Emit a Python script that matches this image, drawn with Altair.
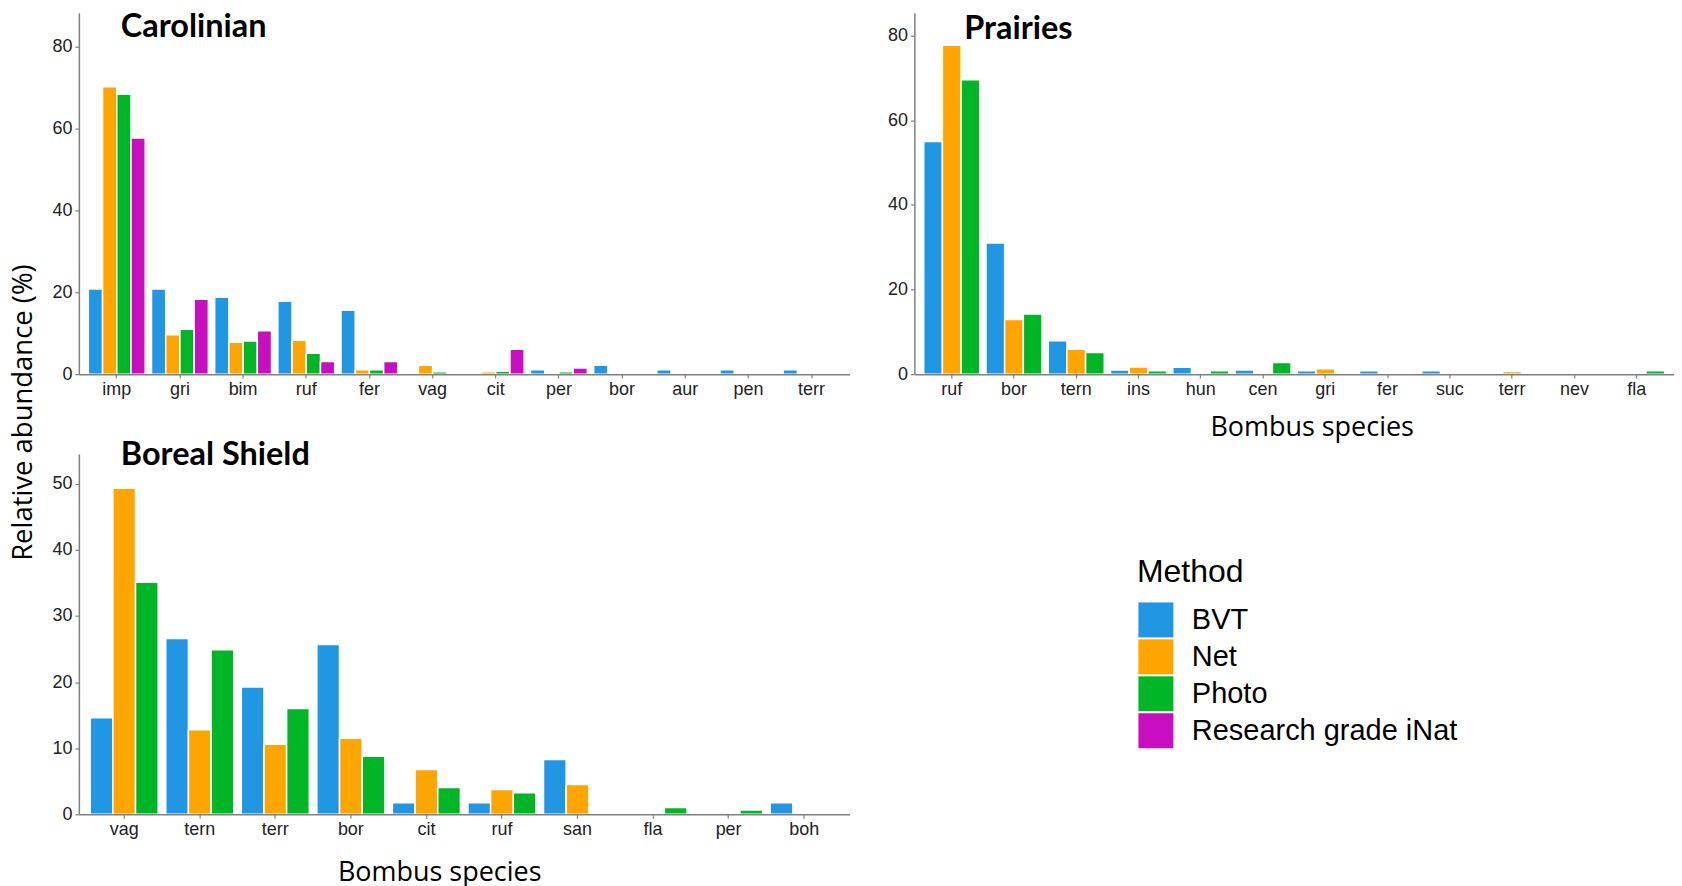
import altair as alt
import pandas as pd

methods_all = ["BVT", "Net", "Photo", "Research grade iNat"]
method_colors = ["#2196E3", "#FFA500", "#00B627", "#C80FBF"]

# Carolinian
car_species = ["imp", "gri", "bim", "ruf", "fer", "vag", "cit", "per", "bor", "aur", "pen", "terr"]
car_bvt = [20.8, 20.8, 18.8, 17.8, 15.6, 0, 0, 1.05, 2.2, 1.05, 1.05, 1.05]
car_net = [70.2, 9.65, 7.8, 8.3, 1.1, 2.2, 0.6, 0.2, 0.2, 0, 0, 0]
car_photo = [68.4, 10.95, 8.1, 5.1, 1.1, 0.6, 0.7, 0.6, 0, 0, 0, 0]
car_inat = [57.7, 18.3, 10.6, 3.1, 3.1, 0, 6.1, 1.5, 0, 0, 0, 0]

# Prairies
pra_species = ["ruf", "bor", "tern", "ins", "hun", "cen", "gri", "fer", "suc", "terr", "nev", "fla"]
pra_bvt = [55.0, 31.0, 7.9, 0.95, 1.6, 0.95, 0.8, 0.8, 0.8, 0.3, 0.3, 0]
pra_net = [77.7, 12.9, 5.9, 1.7, 0, 0, 1.25, 0, 0, 0.6, 0, 0]
pra_photo = [69.6, 14.2, 5.1, 0.8, 0.8, 2.75, 0, 0, 0, 0, 0, 0.8]

# Boreal Shield
bor_species = ["vag", "tern", "terr", "bor", "cit", "ruf", "san", "fla", "per", "boh"]
bor_bvt = [14.6, 26.6, 19.25, 25.7, 1.75, 1.75, 8.3, 0, 0, 1.75]
bor_net = [49.3, 12.8, 10.6, 11.5, 6.8, 3.75, 4.5, 0.15, 0.15, 0]
bor_photo = [35.1, 24.9, 16.0, 8.8, 4.05, 3.25, 0, 1.05, 0.65, 0]


def long_df(species, series):
    rows = []
    for m, vals in series.items():
        for s, v in zip(species, vals):
            if v > 0:
                rows.append({"species": s, "method": m, "value": v})
    return pd.DataFrame(rows)


car_df = long_df(car_species, {"BVT": car_bvt, "Net": car_net, "Photo": car_photo,
                               "Research grade iNat": car_inat})
pra_df = long_df(pra_species, {"BVT": pra_bvt, "Net": pra_net, "Photo": pra_photo})
bor_df = long_df(bor_species, {"BVT": bor_bvt, "Net": bor_net, "Photo": bor_photo})

TICK_FONT = "Liberation Sans"
TITLE_FONT = "Open Sans"


def panel(df, species, methods, ymax, yvals, title, tdx, tdy, width, height,
          ytitle=None, xtitle=None, xtitle_x=None, xtitle_y=56, legend=None):
    xaxis_kwargs = dict(labelFont=TICK_FONT, labelFontSize=18, labelColor="#222222",
                        labelPadding=2, labelAngle=0, tickSize=4, zindex=1,
                        titleFont=TITLE_FONT, titleFontSize=27, titleFontWeight="normal",
                        titleColor="black", titleY=xtitle_y, titleBaseline="middle")
    if xtitle_x is not None:
        xaxis_kwargs["titleX"] = xtitle_x
    xaxis = alt.Axis(**xaxis_kwargs)
    yaxis = alt.Axis(values=yvals, labelFont=TICK_FONT, labelFontSize=18,
                     labelColor="#222222", labelPadding=3, tickSize=4, zindex=1,
                     titleFont=TITLE_FONT, titleFontSize=27.5, titleFontWeight="normal",
                     titleColor="black", titleX=-55, titleY=400, titleBaseline="middle",
                     titleAngle=270)
    color_kwargs = dict(scale=alt.Scale(domain=methods_all, range=method_colors))
    if legend is not None:
        color_kwargs["legend"] = legend
    return alt.Chart(df).mark_bar(stroke="white", strokeWidth=1.5).encode(
        x=alt.X("species:N", sort=species,
                scale=alt.Scale(domain=species, paddingInner=0.1, paddingOuter=0.15),
                axis=xaxis, title=xtitle),
        xOffset=alt.XOffset("method:N", scale=alt.Scale(domain=methods)),
        y=alt.Y("value:Q", scale=alt.Scale(domain=[0, ymax], nice=False),
                axis=yaxis, title=ytitle),
        color=alt.Color("method:N", title="Method", **color_kwargs),
    ).properties(
        width=width, height=height,
        title=alt.TitleParams(text=title, anchor="start", frame="group", orient="top",
                              offset=0, dx=tdx, dy=tdy, baseline="middle",
                              font="Lato", fontSize=32.5, fontWeight="bold", color="black"),
    )


legend = alt.Legend(orient="none", legendX=1060, legendY=545,
                    titleFont="Liberation Sans", titleFontSize=32, titleFontWeight="normal",
                    titleColor="black", titlePadding=13,
                    labelFont="Liberation Sans", labelFontSize=29, labelColor="black",
                    labelOffset=17, labelLimit=500, symbolType="square", symbolSize=1300,
                    symbolStrokeColor="white", symbolStrokeWidth=1, symbolOpacity=1,
                    rowPadding=0, clipHeight=36.5)

car = panel(car_df, car_species, methods_all, 88.3, [0, 20, 40, 60, 80], "Carolinian",
            42, 47, 772, 362, ytitle="Relative abundance (%)", legend=legend)
pra = panel(pra_df, pra_species, ["BVT", "Net", "Photo"], 85.4, [0, 20, 40, 60, 80],
            "Prairies", 50, 49, 761, 362, xtitle="Bombus species", xtitle_x=398,
            xtitle_y=53)
bor = panel(bor_df, bor_species, ["BVT", "Net", "Photo"], 54.5, [0, 10, 20, 30, 40, 50],
            "Boreal Shield", 42, 34, 772, 361, xtitle="Bombus species", xtitle_x=361,
            xtitle_y=58)

chart = alt.concat(car, pra, bor, columns=2, spacing={"row": 80, "column": 65},
                   bounds="flush").resolve_scale(
    x="independent", y="independent", xOffset="independent", color="shared"
).properties(
    padding={"left": 2, "top": 2, "right": 0, "bottom": 0}
).configure_view(stroke=None).configure_axis(
    grid=False, domainColor="#808080", domainWidth=1.5, tickColor="#808080", tickWidth=1.2
)

chart.save("out.html", embed_options={"renderer": "svg", "actions": False})
